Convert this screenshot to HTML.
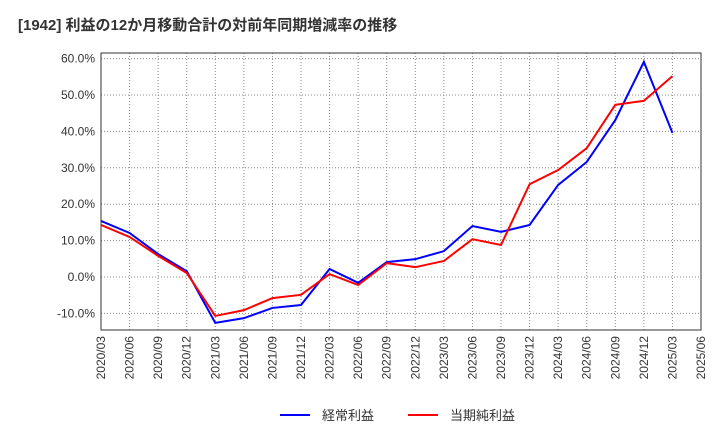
<!DOCTYPE html>
<html><head><meta charset="utf-8"><style>
body{margin:0;background:#fff;font-family:"Liberation Sans","Noto Sans CJK JP",sans-serif;}
</style></head><body>
<svg id="c" width="720" height="440" xmlns="http://www.w3.org/2000/svg">
<text x="18" y="30" font-size="15" font-weight="bold" fill="#333" font-family="Liberation Sans, Noto Sans CJK JP, sans-serif">[1942] 利益の12か月移動合計の対前年同期増減率の推移</text>
</svg>
<script>
const categories=["2020/03","2020/06","2020/09","2020/12","2021/03","2021/06","2021/09","2021/12","2022/03","2022/06","2022/09","2022/12","2023/03","2023/06","2023/09","2023/12","2024/03","2024/06","2024/09","2024/12","2025/03","2025/06"];
const ordinaryProfit=[15.4,12.1,6.3,1.6,-12.6,-11.3,-8.5,-7.7,2.2,-1.6,4.1,4.9,7.1,14.0,12.4,14.3,25.3,31.6,43.1,59.1,39.6];
const netProfit=[14.3,11.0,5.8,1.1,-10.7,-9.1,-5.8,-4.9,0.8,-2.2,3.8,2.7,4.4,10.4,8.8,25.5,29.4,35.4,47.3,48.4,55.2];
const yTicks=[-10,0,10,20,30,40,50,60];
const seriesNames=["経常利益","当期純利益"];
const NS="http://www.w3.org/2000/svg";
const svg=document.getElementById("c");
const L=101,R=701,T=53,B=330;
const xs=i=>L+i*(R-L)/(categories.length-1);
const ys=v=>277-v*3.64;
function mk(t,a){const e=document.createElementNS(NS,t);for(const k in a)e.setAttribute(k,a[k]);svg.appendChild(e);return e;}
yTicks.forEach(v=>{
 const g=mk("line",{x1:L,x2:R,y1:ys(v),y2:ys(v),stroke:"#888","stroke-dasharray":"1,2","stroke-width":1});
 
 
 const t=mk("text",{x:L-6,y:ys(v)+4,"text-anchor":"end","font-size":12,fill:"#333"});
 t.textContent=v.toFixed(1)+"%";
 
 
});
categories.forEach((c,i)=>{
 const g=mk("line",{x1:xs(i),x2:xs(i),y1:T,y2:B,stroke:"#888","stroke-dasharray":"1,2","stroke-width":1});
 
 
 const t=mk("text",{x:0,y:0,"text-anchor":"end","font-size":12,fill:"#333",transform:`translate(${xs(i)+4},${B+6}) rotate(-90)`});
 t.textContent=c;
 
 
});
const fr=mk("rect",{x:L,y:T,width:R-L,height:B-T,fill:"none",stroke:"#333"});


[[ordinaryProfit,"#0000ff","ordinary-profit-line"],[netProfit,"#ff0000","net-profit-line"]].forEach(([d,col,n])=>{
 const p=mk("polyline",{points:d.map((v,i)=>xs(i)+","+ys(v)).join(" "),fill:"none",stroke:col,"stroke-width":2});
 
 
});
[[280,"#0000ff",0],[408,"#ff0000",1]].forEach(([x,col,k])=>{
 const l=mk("line",{x1:x,x2:x+30,y1:415,y2:415,stroke:col,"stroke-width":2});
 
 
 const t=mk("text",{x:x+42,y:420,"font-size":13,fill:"#333"});
 t.textContent=seriesNames[k];
 
 
});
</script>
</body></html>
